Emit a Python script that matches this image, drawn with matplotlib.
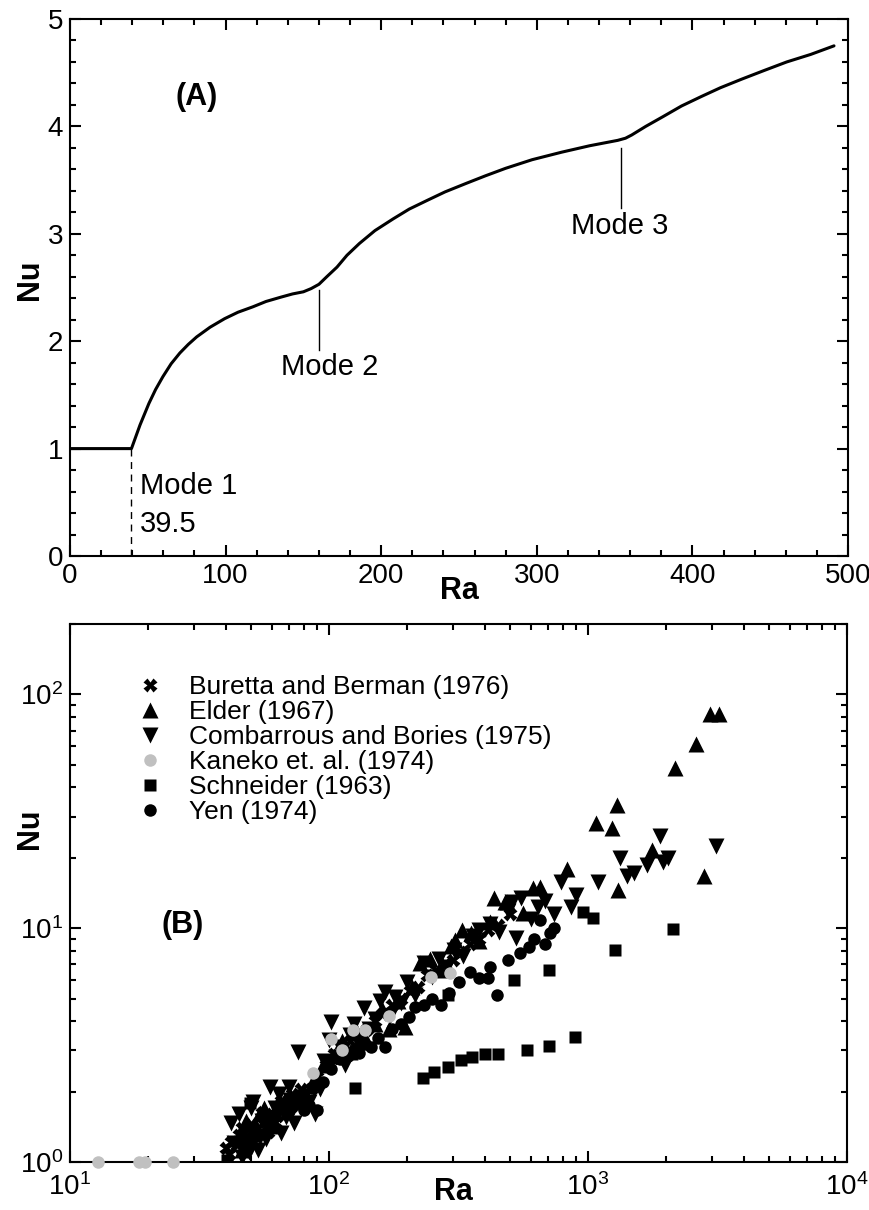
import matplotlib
matplotlib.use("Agg")
import matplotlib.pyplot as plt
from matplotlib.ticker import MultipleLocator, LogLocator, NullFormatter, FixedLocator
from matplotlib.lines import Line2D

plt.rcParams['font.family'] = ['Liberation Sans', 'DejaVu Sans']
plt.rcParams['mathtext.fontset'] = 'custom'
plt.rcParams['mathtext.rm'] = 'Liberation Sans'
plt.rcParams['mathtext.it'] = 'Liberation Sans:italic'
plt.rcParams['mathtext.bf'] = 'Liberation Sans:bold'

# ---------------- Panel A: computed Nu(Ra) curve ----------------
ra_curve = [0, 39.5, 45, 50.7, 55, 59.7, 65, 70.6, 76, 81.4, 90, 99.4, 108, 117.5,
            126, 135.5, 143, 150, 155, 160, 165, 171.6, 178, 186, 196, 207.8,
            218, 229.4, 241, 254.7, 267, 280, 297, 316, 334, 352, 357, 361, 370,
            381, 393, 406, 418, 431.7, 446, 460.6, 476, 491]
nu_curve = [1.0, 1.0, 1.22, 1.42, 1.55, 1.67, 1.79, 1.89, 1.97, 2.04, 2.13, 2.21,
            2.27, 2.32, 2.37, 2.41, 2.44, 2.46, 2.49, 2.53, 2.60, 2.69, 2.80,
            2.91, 3.03, 3.14, 3.23, 3.31, 3.39, 3.47, 3.54, 3.61, 3.69, 3.76,
            3.82, 3.87, 3.89, 3.92, 4.00, 4.09, 4.19, 4.28, 4.36, 4.44, 4.52,
            4.60, 4.67, 4.75]
ra_mode1 = 39.5
ra_mode2 = 160
ra_mode3 = 354

# ---------------- Panel B: experimental data ----------------
buretta_ra = [40, 41, 42, 44, 45, 46, 48, 50, 51, 53, 55, 56, 58, 60, 62, 63, 65,
              67, 70, 72, 75, 78, 80, 85, 90, 97, 105, 112, 120, 130, 140, 150,
              160, 175, 190, 205, 220, 240, 260, 280, 300, 320, 350, 380, 410,
              450, 500]
buretta_nu = [1.15, 1.08, 1.22, 1.18, 1.30, 1.40, 1.28, 1.45, 1.20, 1.40, 1.62,
              1.55, 1.35, 1.60, 1.48, 1.58, 1.82, 1.75, 1.80, 1.95, 1.85, 2.05,
              1.95, 2.05, 2.30, 2.60, 2.90, 3.0, 3.3, 3.5, 3.7, 4.0, 4.3, 4.7,
              5.0, 5.4, 5.6, 6.3, 6.6, 7.0, 7.3, 7.9, 8.6, 9.0, 9.8, 10.3, 11.5]

elder_ra = [44, 46, 48, 50, 52, 54, 56, 58, 60, 64, 69, 74, 80, 88, 95, 105, 112,
            120, 128, 138, 150, 160, 170, 185, 196, 210, 225, 246, 270, 295, 307,
            325, 354, 380, 420, 435, 480, 485, 560, 612, 650, 830, 1070, 1240,
            1290, 1310, 1770, 2170, 2620, 2800, 2970, 3200]
elder_nu = [1.25, 1.12, 1.50, 1.32, 1.45, 1.62, 1.70, 1.52, 1.42, 1.85, 1.65,
            1.90, 2.00, 2.30, 2.60, 2.85, 3.30, 2.95, 3.60, 3.40, 3.90, 4.50,
            3.70, 4.90, 3.79, 5.60, 7.10, 7.40, 6.60, 8.40, 8.90, 9.80, 9.50,
            8.80, 10.6, 13.4, 12.9, 12.9, 11.6, 14.9, 15.0, 18.0, 28.1, 26.8,
            33.5, 14.5, 21.5, 48.2, 61.5, 16.8, 82.8, 82.8]

combarrous_ra = [42, 43, 45, 46, 47, 49, 50, 51, 53, 54, 55, 57, 59, 60, 62, 64,
                 65, 68, 70, 71, 73, 76, 78, 80, 84, 88, 92, 96, 100, 102, 106,
                 110, 115, 120, 125, 130, 136, 143, 150, 158, 165, 172, 180, 190,
                 200, 215, 232, 250, 265, 285, 305, 330, 360, 380, 420, 455, 490,
                 510, 527, 550, 600, 640, 680, 740, 790, 860, 900, 1090, 1335,
                 1410, 1510, 1685, 1890, 1950, 2030, 3130]
combarrous_nu = [1.47, 1.20, 1.60, 1.05, 1.35, 1.10, 1.70, 1.81, 1.13, 1.28, 1.50,
                 1.25, 2.10, 1.42, 1.70, 1.95, 1.33, 1.55, 2.10, 1.85, 1.47, 2.96,
                 1.70, 1.90, 1.80, 1.60, 2.05, 2.70, 3.32, 3.97, 2.80, 3.10, 2.60,
                 3.50, 3.90, 3.20, 4.55, 3.70, 4.10, 4.90, 5.35, 4.20, 5.10, 4.80,
                 5.90, 5.20, 7.07, 6.20, 7.40, 6.80, 8.10, 7.60, 9.30, 9.80, 10.4,
                 9.60, 11.8, 12.9, 9.1, 13.4, 11.0, 12.3, 13.1, 11.5, 15.7, 12.3,
                 13.8, 15.7, 19.9, 16.8, 17.2, 18.6, 24.9, 19.2, 19.9, 22.4]

kaneko_ra = [12.8, 18.4, 19.5, 25.0, 87, 102, 112, 124, 138, 170, 247, 293]
kaneko_nu = [1.0, 1.0, 1.0, 1.0, 2.41, 3.35, 3.01, 3.66, 3.66, 4.22, 6.16, 6.44]

schneider_ra = [40.5, 49.5, 126, 231, 255, 289, 324, 355, 400, 448, 580, 710, 890,
                288, 520, 710, 960, 1050, 1270, 2120]
schneider_nu = [1.02, 1.79, 2.07, 2.28, 2.43, 2.56, 2.73, 2.82, 2.89, 2.89, 3.01,
                3.13, 3.41, 5.17, 6.0, 6.6, 11.7, 11.1, 8.1, 9.9]

yen_ra = [48, 52, 55, 58, 62, 66, 70, 72, 76, 80, 84, 86, 90, 95, 102, 110, 118,
          125, 131, 138, 145, 155, 164, 175, 190, 204, 215, 232, 250, 271, 290,
          318, 350, 380, 411, 420, 445, 490, 545, 590, 620, 650, 680, 714, 740]
yen_nu = [1.20, 1.35, 1.55, 1.45, 1.60, 1.75, 1.65, 1.72, 1.85, 1.67, 1.75, 2.07,
          1.67, 2.20, 2.50, 2.75, 2.85, 3.00, 2.92, 3.20, 3.11, 3.40, 3.11, 3.70,
          3.90, 4.17, 4.60, 4.69, 5.00, 4.69, 5.30, 5.90, 6.50, 6.10, 6.10, 6.80,
          5.17, 7.30, 7.80, 8.30, 9.00, 10.8, 8.60, 9.50, 10.0]

legend_labels = ["Buretta and Berman (1976)", "Elder (1967)",
                 "Combarrous and Bories (1975)", "Kaneko et. al. (1974)",
                 "Schneider (1963)", "Yen (1974)"]

W, H = 870, 1210
fig = plt.figure(figsize=(W / 100, H / 100), dpi=100)
axA = fig.add_axes([70 / W, 1 - 556 / H, 778 / W, 537 / H])
axB = fig.add_axes([70 / W, 1 - 1162 / H, 777 / W, 538 / H])

TICK_FS = 20
LABEL_FS = 22
NOTE_FS = 21


def style_axes(ax):
    for s in ax.spines.values():
        s.set_linewidth(1.5)
    ax.tick_params(which='both', direction='in', top=True, right=True,
                   labelsize=TICK_FS, width=1.5, pad=5)
    ax.tick_params(which='major', length=8)
    ax.tick_params(which='minor', length=4.5)


# Panel A
axA.plot(ra_curve, nu_curve, color='black', lw=2.2, solid_capstyle='round',
         solid_joinstyle='round')
axA.plot([ra_mode1, ra_mode1], [0, 1.0], color='black', lw=1.0, ls=(0, (5, 4)))
axA.plot([ra_mode2, ra_mode2], [1.92, 2.48], color='black', lw=1.0)
axA.plot([ra_mode3, ra_mode3], [3.24, 3.80], color='black', lw=1.0)
axA.text(45, 0.65, "Mode 1", fontsize=NOTE_FS, va='center', ha='left')
axA.text(45, 0.30, "39.5", fontsize=NOTE_FS, va='center', ha='left')
axA.text(167, 1.76, "Mode 2", fontsize=NOTE_FS, va='center', ha='center')
axA.text(353, 3.07, "Mode 3", fontsize=NOTE_FS, va='center', ha='center')
axA.text(0.163, 0.855, "(A)", transform=axA.transAxes, fontsize=22,
         fontweight='bold', ha='center', va='center')
axA.set_xlim(0, 500)
axA.set_ylim(0, 5)
axA.xaxis.set_major_locator(MultipleLocator(100))
axA.xaxis.set_minor_locator(MultipleLocator(20))
axA.yaxis.set_major_locator(MultipleLocator(1))
axA.yaxis.set_minor_locator(MultipleLocator(0.2))
style_axes(axA)
axA.set_xlabel("Ra", fontsize=LABEL_FS, fontweight='bold')
axA.set_ylabel("Nu", fontsize=LABEL_FS, fontweight='bold')
axA.xaxis.set_label_coords(0.5, -0.065)
axA.yaxis.set_label_coords(-0.052, 0.514)
axA.xaxis.label.set_va('center')
axA.yaxis.label.set_va('center')

# Panel B
ms_tri = 11
axB.plot(combarrous_ra, combarrous_nu, 'v', color='black', ms=ms_tri, mec='none', zorder=3)
axB.plot(elder_ra, elder_nu, '^', color='black', ms=ms_tri, mec='none', zorder=3)
axB.plot(buretta_ra, buretta_nu, 'X', color='black', ms=10, mec='none', zorder=3)
axB.plot(yen_ra, yen_nu, 'o', color='black', ms=9, mec='none', zorder=3)
axB.plot(schneider_ra, schneider_nu, 's', color='black', ms=8, mec='none', zorder=3)
axB.plot(kaneko_ra, kaneko_nu, 'o', color='#c0c0c0', ms=9, mec='none', zorder=4,
         clip_on=False)

handles = [
    Line2D([], [], ls='none', marker='X', color='black', ms=10, mec='none'),
    Line2D([], [], ls='none', marker='^', color='black', ms=ms_tri, mec='none'),
    Line2D([], [], ls='none', marker='v', color='black', ms=ms_tri, mec='none'),
    Line2D([], [], ls='none', marker='o', color='#c0c0c0', ms=9, mec='none'),
    Line2D([], [], ls='none', marker='s', color='black', ms=8, mec='none'),
    Line2D([], [], ls='none', marker='o', color='black', ms=9, mec='none'),
]
axB.legend(handles, legend_labels, loc='upper left', bbox_to_anchor=(0.0865, 0.905),
           frameon=False, fontsize=19, handlelength=1.0, handletextpad=0.95,
           labelspacing=0.04, borderpad=0, borderaxespad=0)
axB.text(0.145, 0.44, "(B)", transform=axB.transAxes, fontsize=22,
         fontweight='bold', ha='center', va='center')
axB.set_xscale('log')
axB.set_yscale('log')
axB.set_xlim(10, 1e4)
axB.set_ylim(1, 200)
axB.xaxis.set_major_locator(FixedLocator([10, 100, 1000, 10000]))
axB.xaxis.set_minor_locator(LogLocator(base=10, subs=range(2, 10), numticks=20))
axB.xaxis.set_minor_formatter(NullFormatter())
axB.set_xticklabels([r"10$^{1}$", r"10$^{2}$", r"10$^{3}$", r"10$^{4}$"])
axB.yaxis.set_major_locator(FixedLocator([1, 10, 100]))
axB.yaxis.set_minor_locator(LogLocator(base=10, subs=range(2, 10), numticks=20))
axB.yaxis.set_minor_formatter(NullFormatter())
axB.set_yticklabels([r"10$^{0}$", r"10$^{1}$", r"10$^{2}$"])
style_axes(axB)
axB.tick_params(axis='x', which='major', pad=8)
axB.set_xlabel("Ra", fontsize=LABEL_FS, fontweight='bold')
axB.set_ylabel("Nu", fontsize=LABEL_FS, fontweight='bold')
axB.xaxis.set_label_coords(0.494, -0.056)
axB.yaxis.set_label_coords(-0.052, 0.62)
axB.xaxis.label.set_va('center')
axB.yaxis.label.set_va('center')

fig.savefig("out.png", dpi=100)
